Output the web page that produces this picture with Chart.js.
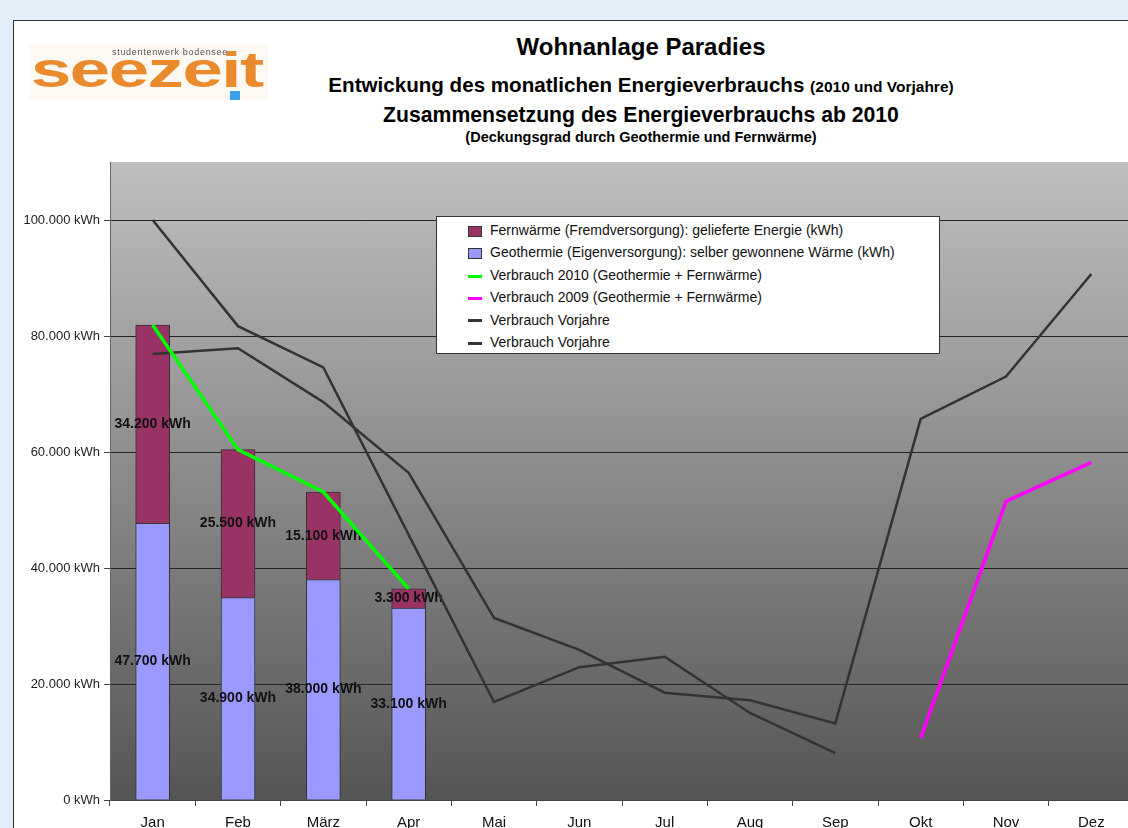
<!DOCTYPE html>
<html>
<head>
<meta charset="utf-8">
<title>Wohnanlage Paradies</title>
<script src="https://cdn.jsdelivr.net/npm/chart.js@4.4.1/dist/chart.umd.min.js"></script>
<style>
body { margin: 0; background: #e1eef8; overflow: hidden; font-family: "Liberation Sans", Arial, sans-serif; }
#panel { position: absolute; left: 13px; top: 20px; width: 1200px; height: 900px; background: #fff; border: 1px solid #333; }
#chartBox { position: absolute; left: 0; top: 0; width: 1134px; height: 840px; }
.title { position: absolute; left: 0; width: 1282px; text-align: center; font-weight: bold; color: #000; white-space: nowrap; }
#logo { position: absolute; left: 30px; top: 44px; width: 238px; height: 56px; background: #fdf8f1; overflow: hidden; }
#logo .word { position: absolute; left: 1px; top: -3px; font-size: 50px; font-weight: bold; color: #e98a2c; transform: scaleX(1.45); transform-origin: left top; letter-spacing: -1px; }
#logo .sub { position: absolute; left: 82px; top: 3px; font-size: 9px; color: #555; letter-spacing: 0.7px; z-index: 2; }
#logo .dot { position: absolute; left: 200px; top: 47px; width: 10px; height: 9px; background: #3aa2ea; }
#legend { position: absolute; left: 436px; top: 216px; width: 502px; height: 134px; background: #fff; border: 1px solid #333; padding-top: 2px; box-sizing: content-box; }
#legend div { height: 22.4px; line-height: 22.4px; font-size: 14px; color: #111; padding-left: 31px; white-space: nowrap; }
#legend span { display: inline-block; width: 14px; margin-right: 8px; vertical-align: middle; }
</style>
</head>
<body>
<div id="panel"></div>
<div id="logo"><span class="word">seezeit</span><span class="sub">studentenwerk bodensee</span><span class="dot"></span></div>
<div class="title" style="top:33px;font-size:24px;">Wohnanlage Paradies</div>
<div class="title" style="top:73px;font-size:20.6px;">Entwickung des monatlichen Energieverbrauchs <span style="font-size:15.5px;">(2010 und Vorjahre)</span></div>
<div class="title" style="top:103px;font-size:21.2px;">Zusammensetzung des Energieverbrauchs ab 2010</div>
<div class="title" style="top:129px;font-size:14.5px;">(Deckungsgrad durch Geothermie und Fernwärme)</div>
<div id="chartBox"><canvas id="myChart" width="1134" height="840"></canvas></div>
<div id="legend"></div>
<script>
const months = ['Jan', 'Feb', 'März', 'Apr', 'Mai', 'Jun', 'Jul', 'Aug', 'Sep', 'Okt', 'Nov', 'Dez'];
const geothermie = [47700, 34900, 38000, 33100, null, null, null, null, null, null, null, null];
const fernwaerme = [34200, 25500, 15100, 3300, null, null, null, null, null, null, null, null];
const verbrauch2010 = [81900, 60400, 53100, 36400, null, null, null, null, null, null, null, null];
const verbrauch2009 = [null, null, null, null, null, null, null, null, null, 10700, 51500, 58200];
const vorjahreA = [100000, 81700, 74600, 45700, 16900, 22900, 24700, 15000, 8100, null, null, null];
const vorjahreB = [76900, 77900, 68600, 56400, 31400, 25900, 18500, 17200, 13200, 65700, 73000, 90700];
const yTicks = [0, 20000, 40000, 60000, 80000, 100000];

function kwh(v) {
    return String(v).replace(/\B(?=(\d{3})+(?!\d))/g, '.') + ' kWh';
}

// grey gradient behind the plot
const plotBackground = {
    id: 'plotBackground',
    beforeDraw(chart) {
        const ctx = chart.ctx;
        const a = chart.chartArea;
        const g = ctx.createLinearGradient(0, a.top, 0, a.bottom);
        g.addColorStop(0, '#bfbfbf');
        g.addColorStop(1, '#555555');
        ctx.save();
        ctx.fillStyle = g;
        ctx.fillRect(a.left, a.top, a.right - a.left, a.bottom - a.top);
        ctx.restore();
    }
};

// value labels in the middle of each bar segment
const barLabels = {
    id: 'barLabels',
    afterDatasetDraw(chart, args) {
        const ds = chart.data.datasets[args.index];
        if (ds.type !== 'bar') return;
        const ctx = chart.ctx;
        ctx.save();
        ctx.font = 'bold 14px "Liberation Sans", Arial, sans-serif';
        ctx.fillStyle = '#111';
        ctx.textAlign = 'center';
        ctx.textBaseline = 'middle';
        args.meta.data.forEach((bar, i) => {
            const v = ds.data[i];
            if (v == null) return;
            ctx.fillText(kwh(v), bar.x, (bar.y + bar.base) / 2);
        });
        ctx.restore();
    }
};

function lineSet(label, data, color, width, key) {
    return {
        type: 'line',
        label: label,
        data: data,
        borderColor: color,
        backgroundColor: color,
        borderWidth: width,
        pointRadius: 0,
        tension: 0,
        spanGaps: false,
        stack: key,
        order: 1
    };
}

const datasets = [
    {
        type: 'bar',
        label: 'Geothermie (Eigenversorgung): selber gewonnene Wärme (kWh)',
        data: geothermie,
        backgroundColor: '#9999ff',
        borderColor: '#333',
        borderWidth: 1,
        barThickness: 34,
        stack: 'bars',
        order: 2
    },
    {
        type: 'bar',
        label: 'Fernwärme (Fremdversorgung): gelieferte Energie (kWh)',
        data: fernwaerme,
        backgroundColor: '#993366',
        borderColor: '#333',
        borderWidth: 1,
        barThickness: 34,
        stack: 'bars',
        order: 2
    },
    lineSet('Verbrauch 2010 (Geothermie + Fernwärme)', verbrauch2010, '#00ff00', 3.5, 'l2010'),
    lineSet('Verbrauch 2009 (Geothermie + Fernwärme)', verbrauch2009, '#ff00ff', 3.5, 'l2009'),
    lineSet('Verbrauch Vorjahre', vorjahreA, '#333333', 2.5, 'la'),
    lineSet('Verbrauch Vorjahre', vorjahreB, '#333333', 2.5, 'lb')
];

const ctx = document.getElementById('myChart').getContext('2d');
const myChart = new Chart(ctx, {
    data: { labels: months, datasets: datasets },
    plugins: [plotBackground, barLabels],
    options: {
        responsive: false,
        animation: false,
        layout: { padding: { top: 162, left: 0, right: 0, bottom: 0 } },
        plugins: { legend: { display: false }, tooltip: { enabled: false } },
        scales: {
            x: {
                stacked: true,
                offset: true,
                grid: { offset: true, drawOnChartArea: false, drawTicks: true, tickLength: 6, color: '#444' },
                border: { color: '#444' },
                ticks: { font: { size: 15, family: '"Liberation Sans", Arial, sans-serif' }, color: '#111', padding: 8 },
                afterFit: function(scale) { scale.height = 40; }
            },
            y: {
                stacked: true,
                min: 0,
                max: 110000,
                afterBuildTicks: function(scale) {
                    scale.ticks = yTicks.map(v => ({ value: v }));
                },
                grid: { color: '#242424', lineWidth: 1, tickLength: 6, tickColor: '#444' },
                border: { color: '#666' },
                ticks: {
                    font: { size: 13, family: '"Liberation Sans", Arial, sans-serif' },
                    color: '#222',
                    padding: 4,
                    callback: v => kwh(v)
                },
                afterFit: function(scale) { scale.width = 110; }
            }
        }
    }
});

// legend box, same order as the original
const legendOrder = [1, 0, 2, 3, 4, 5];
const legendBox = document.getElementById('legend');
legendOrder.forEach(i => {
    const ds = myChart.data.datasets[i];
    const row = document.createElement('div');
    const sw = document.createElement('span');
    if (ds.type === 'bar') {
        sw.style.height = '9px';
        sw.style.background = ds.backgroundColor;
        sw.style.border = '1px solid #333';
        sw.style.width = '12px';
    } else {
        sw.style.height = '3px';
        sw.style.background = ds.borderColor;
    }
    row.appendChild(sw);
    row.appendChild(document.createTextNode(ds.label));
    legendBox.appendChild(row);
});
</script>
</body>
</html>
